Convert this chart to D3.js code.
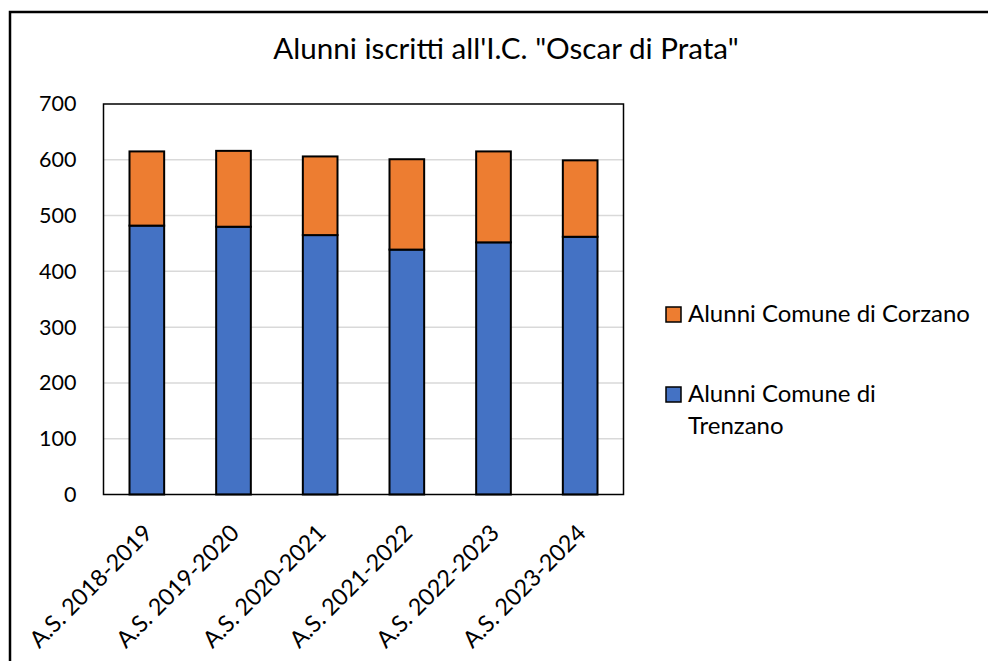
<!DOCTYPE html>
<html><head><meta charset="utf-8">
<script src="https://cdn.jsdelivr.net/npm/d3@7"></script>
<style>body{margin:0;background:#fff}text{font-family:Lato,"Open Sans",sans-serif;fill:#000}</style>
</head><body><svg id="c" width="988" height="661"></svg>
<script>
const categories = ["A.S. 2018-2019","A.S. 2019-2020","A.S. 2020-2021","A.S. 2021-2022","A.S. 2022-2023","A.S. 2023-2024"];
const trenzano = [482, 480, 465, 439, 452, 462];
const corzano = [133, 136, 141, 162, 163, 137];
const seriesNames = ["Alunni Comune di Trenzano", "Alunni Comune di Corzano"];
const colors = ["#4472C4", "#ED7D31"];
const yTicks = [0,100,200,300,400,500,600,700];
const title = "Alunni iscritti all'I.C. \"Oscar di Prata\"";

const svg = d3.select("#c");
const L = 103.5, R = 623.5, T = 104, B = 494.5;
const fs = 21.5, fl = 24;

svg.append("rect").attr("x",10).attr("y",12).attr("width",990).attr("height",660)
  .attr("fill","none").attr("stroke","#000").attr("stroke-width",2.5);

const x = d3.scaleBand().domain(categories).range([L,R]).paddingInner(0.6).paddingOuter(0.3);
const y = d3.scaleLinear().domain([0,700]).range([B,T]);

// gridlines
svg.append("g").selectAll("line").data(yTicks.filter(d=>d>0&&d<700)).join("line")
  .attr("x1",L).attr("x2",R).attr("y1",d=>y(d)).attr("y2",d=>y(d))
  .attr("stroke","#d9d9d9").attr("stroke-width",1.5);

// stacked data
const rows = categories.map((c,i)=>({cat:c, t:trenzano[i], c:corzano[i]}));
const stack = d3.stack().keys(["t","c"])(rows);
svg.append("g").selectAll("g").data(stack).join("g").attr("fill",(d,i)=>colors[i])
  .selectAll("rect").data(d=>d).join("rect")
  .attr("x",d=>x(d.data.cat)).attr("width",x.bandwidth())
  .attr("y",d=>y(d[1])).attr("height",d=>y(d[0])-y(d[1]))
  .attr("stroke","#000").attr("stroke-width",2);

// plot border
svg.append("rect").attr("x",L).attr("y",T).attr("width",R-L).attr("height",B-T)
  .attr("fill","none").attr("stroke","#000").attr("stroke-width",1.5);

// y axis
const ya = svg.append("g").attr("transform",`translate(${L},0)`)
  .call(d3.axisLeft(y).tickValues(yTicks).tickSize(0).tickPadding(27));
ya.select(".domain").remove();
ya.selectAll("text").style("font-size",fs+"px").style("font-family","Lato").attr("fill","#000");

// x axis labels
const xa = svg.append("g").attr("transform",`translate(0,${B})`)
  .call(d3.axisBottom(x).tickSize(0));
xa.select(".domain").remove();
xa.selectAll("text").style("font-size","23.3px").style("font-family","Lato").attr("fill","#000")
  .attr("text-anchor","end").attr("dy",0).attr("y",0)
  .attr("transform","translate(-6,27) rotate(-45)").attr("dominant-baseline","hanging");

// title
svg.append("text").attr("x",506).attr("y",59).attr("text-anchor","middle")
  .style("font-size","29.6px").text(title);

// legend
const leg = [
  {name:seriesNames[1], color:colors[1], y:307, lines:["Alunni Comune di Corzano"]},
  {name:seriesNames[0], color:colors[0], y:387, lines:["Alunni Comune di","Trenzano"]}
];
const lg = svg.append("g").selectAll("g").data(leg).join("g");
lg.append("rect").attr("x",666).attr("y",d=>d.y).attr("width",15).attr("height",15)
  .attr("fill",d=>d.color).attr("stroke","#000").attr("stroke-width",1.5);
lg.append("text").attr("x",688).attr("y",d=>d.y+15).style("font-size",fl+"px")
  .selectAll("tspan").data(d=>d.lines).join("tspan").attr("x",688).attr("dy",(d,i)=>i?32:0).text(d=>d);
</script></body></html>
